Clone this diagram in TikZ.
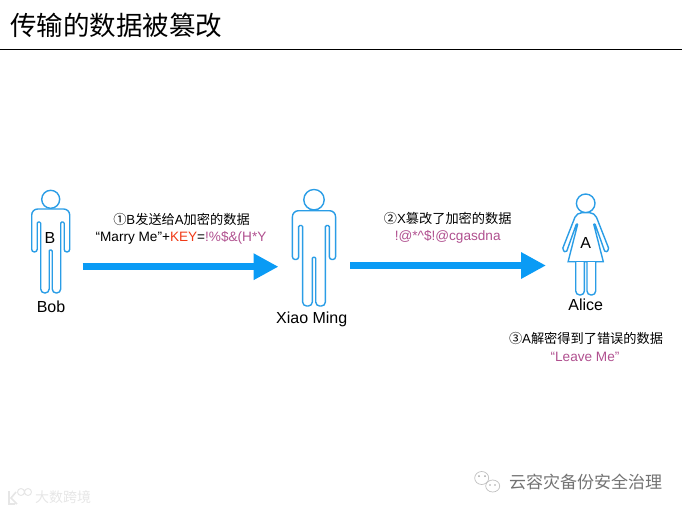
\documentclass[tikz,border=0pt]{standalone}
\usepackage{fontspec}
\setmainfont{Liberation Sans}
\newfontfamily\cjk{Noto Sans CJK SC}
\usetikzlibrary{arrows.meta}
\definecolor{figblue}{HTML}{2A9DE6}
\definecolor{arrowblue}{HTML}{0A9BF5}
\definecolor{cipher}{HTML}{B0508F}
\definecolor{keyred}{HTML}{F03A17}
\definecolor{markgray}{HTML}{E6E6E6}
\tikzstyle{title} = [
    anchor=west,
    inner sep=0pt,
    font=\cjk\fontsize{26.5}{26.5}\selectfont
]
\tikzstyle{letter} = [
    inner sep=0pt,
    font=\fontsize{16}{16}\selectfont
]
\tikzstyle{caption} = [
    inner sep=0pt,
    font=\fontsize{13.2}{15}\selectfont
]
\tikzstyle{message} = [
    inner sep=0pt,
    font=\fontsize{13.6}{15}\selectfont
]
\tikzstyle{figure} = [draw=figblue, line width=1.4pt, fill=white]
\tikzstyle{arrow} = [line width=6.5pt, arrowblue, -{Triangle[length=25pt,width=25pt]}]
\tikzset{
    man/.pic={
        \draw [figure] (0,-9.7) circle [radius=9];
        \draw [figure, rounded corners=1.7pt] (0,0) [rounded corners=6pt] -- (19,0)
            [rounded corners=2.7pt] -- (19,43) -- (13.5,43)
            [rounded corners=1.2pt] -- (13.5,13) -- (10,13)
            [rounded corners=4pt] -- (10,84) -- (1.5,84)
            [rounded corners=1pt] -- (1.5,41) -- (-1.5,41)
            [rounded corners=4pt] -- (-1.5,84) -- (-10,84)
            [rounded corners=1.2pt] -- (-10,13) -- (-13.5,13)
            [rounded corners=2.7pt] -- (-13.5,43) -- (-19,43)
            [rounded corners=6pt] -- (-19,0) -- cycle;
    },
    woman/.pic={
        \draw [figure] (0,-9.4) circle [radius=9.3];
        \draw [figure] (0,0) [rounded corners=5pt] -- (9,0)
            [rounded corners=1.8pt] -- (23.5,37) -- (19.5,40)
            [rounded corners=0.6pt] -- (9.3,11.3) -- (8,11.3)
            [sharp corners] -- (17.6,49) -- (10,49)
            [rounded corners=4pt] -- (10,82.3) -- (1.3,82.3)
            [sharp corners] -- (1.3,49) -- (-1.3,49)
            [rounded corners=4pt] -- (-1.3,82.3) -- (-10,82.3)
            [sharp corners] -- (-10,49) -- (-17.6,49)
            [rounded corners=0.6pt] -- (-8,11.3) -- (-9.3,11.3)
            [rounded corners=1.8pt] -- (-19.5,40) -- (-23.5,37)
            [rounded corners=5pt] -- (-9,0) -- cycle;
        \draw [figure] (-10,49) -- (10,49);
    }
}
\begin{document}
\begin{tikzpicture}[x=1pt,y=-1pt]
\useasboundingbox (0,0) rectangle (682,512);

\node (heading) [title] at (10,25) {传输的数据被篡改};
\coordinate (ruleL) at (0,49);
\coordinate (ruleR) at (682,49);
\draw [line width=1pt] (ruleL) -- (ruleR);

\pic at (50.7,209) {man};
\pic [scale=1.135] at (314,210.7) {man};
\pic at (585.7,212.7) {woman};

\node (bobB) [letter] at (50,238) {B};
\node (aliceA) [letter] at (585.7,243) {A};
\node (bob) [letter] at (51,306.5) {Bob};
\node (xiao) [letter] at (311.7,319.5) {Xiao Ming};
\node (alice) [letter] at (585.7,305) {Alice};

\node (step1) [caption] at (181.5,219.3) {{\cjk ①}B{\cjk 发送给}A{\cjk 加密的数据}};
\node (msg1) [message] at (181,238) {“Marry Me”+{\color{keyred}KEY}={\color{cipher}!\%\$\&(H*Y}};
\node (step2) [caption] at (447.7,218.3) {{\cjk ②}X{\cjk 篡改了加密的数据}};
\node (msg2) [message, text=cipher] at (447.7,236.7) {!@*\^{}\$!@cgasdna};
\node (step3) [caption] at (586,338) {{\cjk ③}A{\cjk 解密得到了错误的数据}};
\node (msg3) [message, text=cipher] at (585,356.7) {“Leave Me”};

\coordinate (arrow1s) at (82.7,266.7);
\coordinate (arrow1e) at (278.5,266.7);
\coordinate (arrow2s) at (350,265.5);
\coordinate (arrow2e) at (546,265.5);
\draw [arrow] (arrow1s) -- (arrow1e);
\draw [arrow] (arrow2s) -- (arrow2e);

% watermarks
\node (wechat) [inner sep=0pt, text=black!55, font=\cjk\fontsize{17}{17}\selectfont, anchor=west] at (509,482) {云容灾备份安全治理};
\draw [black!25, line width=0.7pt] (481.7,478) ellipse [x radius=7, y radius=6.5];
\draw [black!25, line width=0.7pt, fill=white] (492.7,486) ellipse [x radius=7, y radius=6];
\fill [black!35] (479,476) circle [radius=1] (485,476) circle [radius=1] (490,485) circle [radius=0.8] (495,485) circle [radius=0.8];
\node (brand) [inner sep=0pt, text=markgray, font=\cjk\fontsize{14}{14}\selectfont, anchor=west] at (35,497.5) {大数跨境};
\draw [markgray, line width=1.6pt] (9,491) -- (9,504) -- (15,504) (16,492) -- (11,498) -- (17,504);
\draw [markgray, line width=1pt] (21,492) circle [radius=3.5] (28,492) circle [radius=3.5];

\end{tikzpicture}
\end{document}
